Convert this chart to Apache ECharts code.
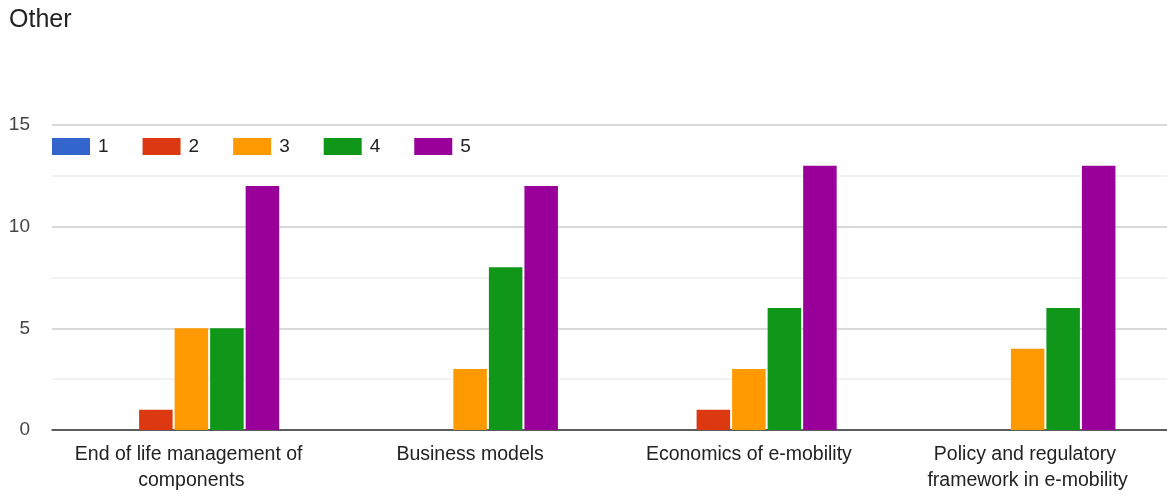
<!DOCTYPE html>
<html>
<head>
<meta charset="utf-8">
<script src="https://cdn.jsdelivr.net/npm/echarts@6/dist/echarts.min.js"></script>
<style>
html, body { margin: 0; padding: 0; background: #fff; }
#main { width: 1167px; height: 494px; }
</style>
</head>
<body>
<div id="main"></div>
<script>
var categories = [
    'End of life management of components',
    'Business models',
    'Economics of e-mobility',
    'Policy and regulatory framework in e-mobility'
];
var seriesNames = ['1', '2', '3', '4', '5'];
var values1 = [0, 0, 0, 0];
var values2 = [1, 0, 1, 0];
var values3 = [5, 3, 3, 4];
var values4 = [5, 8, 6, 6];
var values5 = [12, 12, 13, 13];
var colors = ['#3366cc', '#dc3912', '#ff9900', '#109618', '#990099'];

var allValues = [values1, values2, values3, values4, values5];
var font = 'Liberation Sans, Arial, sans-serif';

var myChart = echarts.init(document.getElementById('main'));

var series = allValues.map(function (vals, i) {
    return {
        name: seriesNames[i],
        type: 'bar',
        data: vals,
        barGap: '6%',
        barCategoryGap: '37%',
        itemStyle: { color: colors[i] }
    };
});

var option = {
    animation: false,
    color: colors,
    title: {
        text: 'Other',
        left: 9,
        top: 8,
        padding: 0,
        textStyle: { fontFamily: font, fontSize: 25, fontWeight: 'normal', color: '#222' }
    },
    legend: {
        left: 52,
        top: 137,
        padding: 0,
        itemWidth: 38,
        itemHeight: 17,
        itemGap: 34,
        icon: 'rect',
        textStyle: { fontFamily: font, fontSize: 19, color: '#222', padding: [0, 0, 0, 3] },
        data: seriesNames
    },
    grid: {
        left: 52,
        right: 0,
        top: 125,
        bottom: 61,
        containLabel: false
    },
    xAxis: {
        type: 'category',
        data: categories,
        axisTick: { show: false },
        axisLine: { lineStyle: { color: '#333', width: 1.5 } },
        axisLabel: {
            fontFamily: font,
            fontSize: 19.5,
            color: '#222',
            margin: 12,
            lineHeight: 26,
            width: 240,
            overflow: 'break',
            interval: 0
        }
    },
    yAxis: {
        type: 'value',
        min: 0,
        max: 15,
        interval: 5,
        axisLine: { show: false },
        axisTick: { show: false },
        axisLabel: { fontFamily: font, fontSize: 19, color: '#444', margin: 22 },
        splitLine: { lineStyle: { color: '#ccc', width: 1.5 } },
        minorTick: { show: false, splitNumber: 2 },
        minorSplitLine: { show: true, lineStyle: { color: '#eee', width: 1.5 } }
    },
    series: series
};

myChart.setOption(option);
</script>
</body>
</html>
